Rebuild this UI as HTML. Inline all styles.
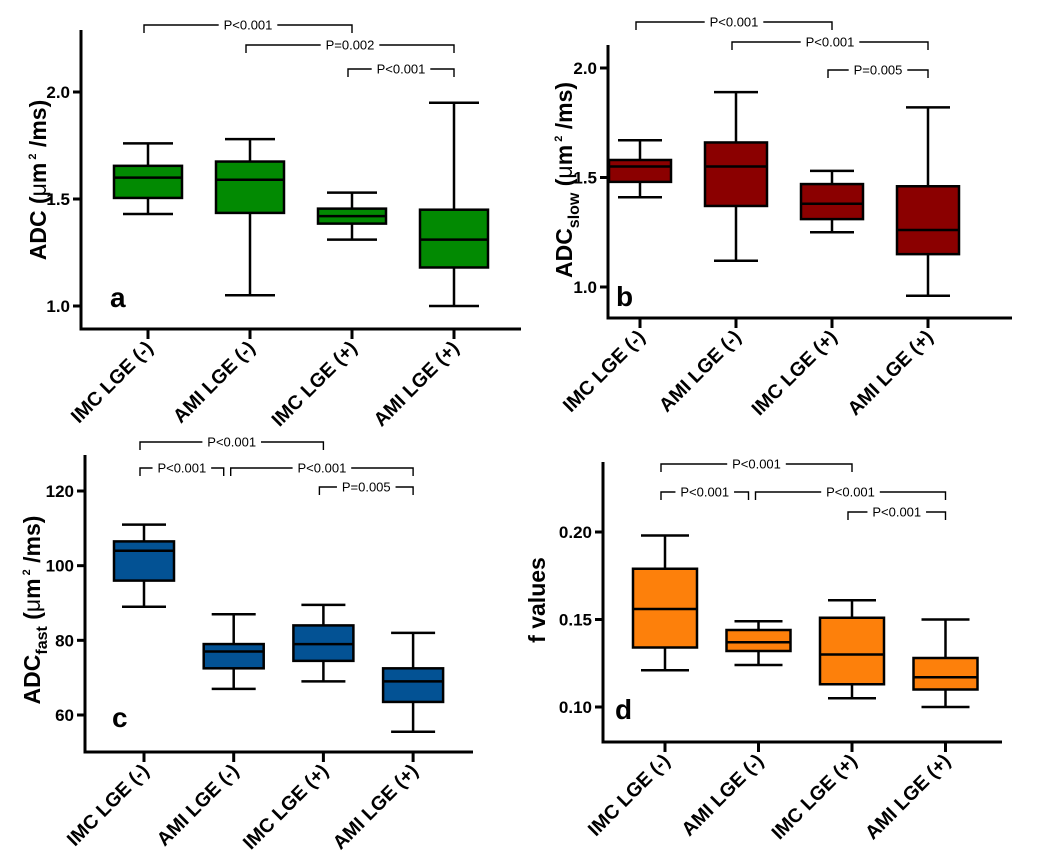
<!DOCTYPE html>
<html><head><meta charset="utf-8"><style>
html,body{margin:0;padding:0;background:#fff}
svg{display:block}
text{font-family:"Liberation Sans",sans-serif;font-weight:bold;fill:#000}
</style></head><body>
<svg id="fig" width="1058" height="868" viewBox="0 0 1058 868" xmlns="http://www.w3.org/2000/svg"></svg>
<script>
const categories = ["IMC LGE (-)", "AMI LGE (-)", "IMC LGE (+)", "AMI LGE (+)"];
// five-number summaries [min, q1, median, q3, max]
const adcValues = [[1.43,1.505,1.60,1.655,1.76],[1.05,1.435,1.59,1.675,1.78],[1.31,1.385,1.42,1.455,1.53],[1.00,1.18,1.31,1.45,1.95]];
const adcSlowValues = [[1.41,1.48,1.55,1.58,1.67],[1.12,1.37,1.55,1.66,1.89],[1.25,1.31,1.38,1.47,1.53],[0.96,1.15,1.26,1.46,1.82]];
const adcFastValues = [[89,96,104,106.5,111],[67,72.5,77,79,87],[69,74.5,79,84,89.5],[55.5,63.5,69,72.5,82]];
const fValues = [[0.121,0.134,0.156,0.179,0.198],[0.124,0.132,0.137,0.144,0.149],[0.105,0.113,0.130,0.151,0.161],[0.100,0.110,0.117,0.128,0.150]];
const ticksA = [1.0,1.5,2.0], tickLabelsA = ["1.0","1.5","2.0"];
const ticksB = [1.0,1.5,2.0], tickLabelsB = ["1.0","1.5","2.0"];
const ticksC = [60,80,100,120], tickLabelsC = ["60","80","100","120"];
const ticksD = [0.10,0.15,0.20], tickLabelsD = ["0.10","0.15","0.20"];
// comparisons: [fromIndex, toIndex, label, level]
const compsA = [[0,2,"P<0.001",0],[1,3,"P=0.002",1],[2,3,"P<0.001",2]];
const compsB = [[0,2,"P<0.001",0],[1,3,"P<0.001",1],[2,3,"P=0.005",2]];
const compsC = [[0,2,"P<0.001",0],[0,1,"P<0.001",1],[1,3,"P<0.001",1],[2,3,"P=0.005",2]];
const compsD = [[0,2,"P<0.001",0],[0,1,"P<0.001",1],[1,3,"P<0.001",1],[2,3,"P<0.001",2]];

const svg = document.getElementById('fig');
const NS = "http://www.w3.org/2000/svg";
function mk(tag, attrs, parent){const e=document.createElementNS(NS,tag);for(const k in attrs)e.setAttribute(k,attrs[k]);(parent||svg).appendChild(e);return e;}

function panel(cfg){
  const g = mk('g',{});
  
  
  const y = v => cfg.y0px + (v - cfg.v0)/(cfg.v1 - cfg.v0)*(cfg.y1px - cfg.y0px);
  const x = i => cfg.cx0 + i*cfg.step;
  const ya = mk('line',{x1:cfg.ax,y1:cfg.top,x2:cfg.ax,y2:cfg.base+1.5,stroke:'#000','stroke-width':3},g);
   
  const xa = mk('line',{x1:cfg.ax-1.5,y1:cfg.base,x2:cfg.right,y2:cfg.base,stroke:'#000','stroke-width':3},g);
   
  cfg.ticks.forEach((t,i)=>{
    mk('line',{x1:cfg.ax-8,y1:y(t),x2:cfg.ax,y2:y(t),stroke:'#000','stroke-width':3},g);
    const tl = mk('text',{x:cfg.ax-11,y:y(t)+6,'text-anchor':'end','font-size':17},g);
    tl.textContent = cfg.tickLabels[i];
     
  });
  categories.forEach((c,i)=>{
    mk('line',{x1:x(i),y1:cfg.base,x2:x(i),y2:cfg.base+10,stroke:'#000','stroke-width':3},g);
    const tx = x(i)+6, ty = cfg.base+20;
    const tl = mk('text',{x:tx,y:ty,'text-anchor':'end','font-size':19.5,transform:`rotate(-45 ${tx} ${ty})`},g);
    tl.textContent = c;
     
  });
  cfg.data.forEach((d,i)=>{
    const bg = mk('g',{},g);
    
    
    const cx = x(i), hw = cfg.hw, cw = cfg.cw;
    mk('line',{x1:cx,y1:y(d[0]),x2:cx,y2:y(d[4]),stroke:'#000','stroke-width':2.5},bg);
    mk('line',{x1:cx-cw,y1:y(d[0]),x2:cx+cw,y2:y(d[0]),stroke:'#000','stroke-width':2.5},bg);
    mk('line',{x1:cx-cw,y1:y(d[4]),x2:cx+cw,y2:y(d[4]),stroke:'#000','stroke-width':2.5},bg);
    mk('rect',{x:cx-hw,y:y(d[3]),width:2*hw,height:y(d[1])-y(d[3]),fill:cfg.color,stroke:'#000','stroke-width':2.5},bg);
    mk('line',{x1:cx-hw,y1:y(d[2]),x2:cx+hw,y2:y(d[2]),stroke:'#000','stroke-width':2.5},bg);
  });
  const hasPair = cfg.comps.some(c=>c[3]==1 && c[0]==0 && c[1]==1);
  cfg.comps.forEach(cp=>{
    const bg = mk('g',{},g);
    
    
    let x1 = x(cp[0])-4, x2 = x(cp[1]);
    if(hasPair && cp[3]==1){ if(cp[1]==1) x2 = x(1)-10; if(cp[0]==1) x1 = x(1)-3; }
    const yy = cfg.brY[cp[3]];
    const t = mk('text',{x:(x1+x2)/2,y:yy+4.5,'text-anchor':'middle','font-size':13,style:'font-weight:normal'},bg);
    t.textContent = cp[2];
    const tw = cp[2].length*7.8/2+2;
    mk('path',{d:`M${x1} ${yy+8}V${yy}H${(x1+x2)/2-tw}M${(x1+x2)/2+tw} ${yy}H${x2}V${yy+8}`,fill:'none',stroke:'#000','stroke-width':1.4},bg);
  });
  const yl = mk('text',{x:cfg.ylx,y:cfg.yly,'text-anchor':'middle','font-size':23,transform:`rotate(-90 ${cfg.ylx} ${cfg.yly})`},g);
  yl.innerHTML = cfg.ylabel;
   
  const lt = mk('text',{x:cfg.lx,y:cfg.ly,'font-size':28},g);
  lt.textContent = cfg.id;
   
}

const unit = '(<tspan style="font-weight:normal">μ</tspan>m<tspan dy="-10" font-size="11"> 2</tspan><tspan dy="10"> /ms)</tspan>';
panel({id:'a',data:adcValues,ticks:ticksA,tickLabels:tickLabelsA,comps:compsA,color:'#028a02',
  v0:1.0,v1:2.0,y0px:306,y1px:92,ax:81,top:30,base:329,right:521,cx0:148,step:102,hw:34,cw:25,
  brY:[25,45,69],ylx:46,yly:180,ylabel:'ADC '+unit,lx:110,ly:307});
panel({id:'b',data:adcSlowValues,ticks:ticksB,tickLabels:tickLabelsB,comps:compsB,color:'#8b0000',
  v0:1.0,v1:2.0,y0px:287,y1px:68,ax:608,top:45,base:318,right:1012,cx0:640,step:96,hw:31,cw:22,
  brY:[22,42,70],ylx:572,yly:180,ylabel:'ADC<tspan dy="7" font-size="16">slow</tspan><tspan dy="-7"> </tspan>'+unit,lx:616,ly:306});
panel({id:'c',data:adcFastValues,ticks:ticksC,tickLabels:tickLabelsC,comps:compsC,color:'#035294',
  v0:60,v1:120,y0px:715,y1px:491,ax:85,top:455,base:752,right:473,cx0:144,step:89.7,hw:30,cw:22,
  brY:[442,468,487],ylx:40,yly:610,ylabel:'ADC<tspan dy="7" font-size="16">fast</tspan><tspan dy="-7"> </tspan>'+unit,lx:112,ly:727});
panel({id:'d',data:fValues,ticks:ticksD,tickLabels:tickLabelsD,comps:compsD,color:'#fd800b',
  v0:0.10,v1:0.20,y0px:707,y1px:532,ax:603,top:462,base:742,right:1002,cx0:665,step:93.5,hw:32,cw:24,
  brY:[464,492,512],ylx:545,yly:600,ylabel:'f values',lx:615,ly:719});
</script>
</body></html>
